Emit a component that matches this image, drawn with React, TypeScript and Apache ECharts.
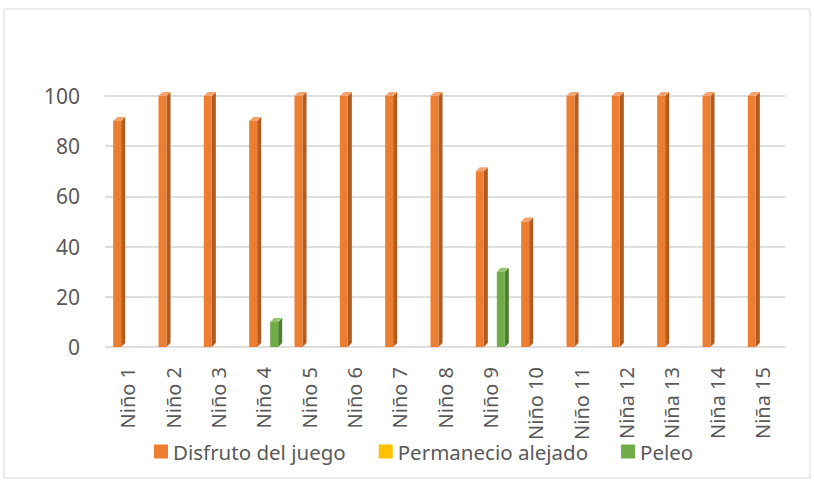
import React, { useEffect, useRef } from "react";
import * as echarts from "echarts";

const categories = [
  "Niño 1", "Niño 2", "Niño 3", "Niño 4", "Niño 5", "Niño 6", "Niño 7", "Niño 8",
  "Niño 9", "Niño 10", "Niño 11", "Niña 12", "Niña 13", "Niña 14", "Niña 15",
];
const disfruto = [90, 100, 100, 90, 100, 100, 100, 100, 70, 50, 100, 100, 100, 100, 100];
const permanecio = [0, 0, 0, 0, 0, 0, 0, 0, 0, 0, 0, 0, 0, 0, 0];
const peleo = [0, 0, 0, 10, 0, 0, 0, 0, 30, 0, 0, 0, 0, 0, 0];
const yTicks = [0, 20, 40, 60, 80, 100];

const FONT = "Noto Sans";

function makeRender(offset: number, front: string, side: string, top: string) {
  return (params: any, api: any) => {
    const v = api.value(1);
    if (!v) return { type: "group", children: [] };
    const idx = api.value(0);
    const p = api.coord([idx, v]);
    const b = api.coord([idx, 0]);
    const w = 8;
    const d = 4;
    const x0 = p[0] + offset - w / 2;
    return {
      type: "group",
      children: [
        {
          type: "polygon",
          shape: { points: [[x0 + w, p[1]], [x0 + w + d, p[1] - d], [x0 + w + d, b[1] - d], [x0 + w, b[1]]] },
          style: { fill: side },
        },
        {
          type: "polygon",
          shape: { points: [[x0, p[1]], [x0 + d, p[1] - d], [x0 + w + d, p[1] - d], [x0 + w, p[1]]] },
          style: { fill: top },
        },
        {
          type: "rect",
          shape: { x: x0, y: p[1], width: w, height: b[1] - p[1] },
          style: { fill: front },
        },
      ],
    };
  };
}

export default function App() {
  const ref = useRef<HTMLDivElement>(null);
  useEffect(() => {
    document.body.style.margin = "0";
    const chart = echarts.init(ref.current!, null, { renderer: "svg" });
    const mk = (name: string, vals: number[], offset: number, front: string, side: string, top: string) => ({
      name,
      type: "custom",
      renderItem: makeRender(offset, front, side, top),
      itemStyle: { color: front },
      encode: { x: 0, y: 1 },
      data: vals.map((v, i) => [i, v]),
    });
    chart.setOption({
      animation: false,
      backgroundColor: "#ffffff",
      textStyle: { fontFamily: FONT },
      graphic: [
        {
          type: "rect",
          shape: { x: 4, y: 9, width: 806, height: 469 },
          style: { fill: "none", stroke: "#d9d9d9", lineWidth: 1 },
          silent: true,
        },
      ],
      grid: { left: 105, right: 29, top: 96, bottom: 133 },
      legend: {
        left: 149,
        top: 436,
        itemWidth: 14,
        itemHeight: 14,
        itemGap: 33,
        icon: "rect",
        textStyle: { fontFamily: FONT, fontSize: 20.5, color: "#595959" },
        data: ["Disfruto del juego", "Permanecio alejado", "Peleo"],
      },
      xAxis: {
        type: "category",
        data: categories,
        axisLine: { show: false },
        axisTick: { show: false },
        axisLabel: { rotate: 90, interval: 0, fontSize: 20, color: "#595959", margin: 20, fontFamily: FONT },
      },
      yAxis: {
        type: "value",
        min: yTicks[0],
        max: yTicks[yTicks.length - 1],
        interval: 20,
        axisLine: { show: false },
        axisTick: { show: false },
        axisLabel: { fontSize: 21, color: "#595959", margin: 25, fontFamily: FONT },
        splitLine: { lineStyle: { color: "#dedede", width: 2 } },
      },
      series: [
        mk("Disfruto del juego", disfruto, -10.5, "#ED7D31", "#B35A1F", "#F4A36E"),
        mk("Permanecio alejado", permanecio, 0, "#FFC000", "#C09000", "#FFD550"),
        mk("Peleo", peleo, 10.5, "#70AD47", "#4E7F2F", "#94C670"),
      ],
    });
    return () => chart.dispose();
  }, []);
  return <div ref={ref} style={{ width: 814, height: 480 }} />;
}
